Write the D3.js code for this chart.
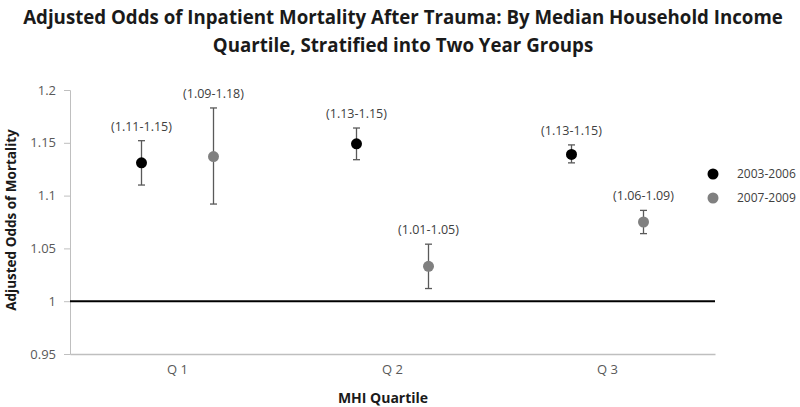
<!DOCTYPE html>
<html>
<head>
<meta charset="utf-8">
<script src="https://cdn.jsdelivr.net/npm/d3@7"></script>
<style>
  body { margin: 0; background: #fff; }
  text { font-family: "Open Sans", "DejaVu Sans", sans-serif; }
</style>
</head>
<body>
<script>
const quartiles = ["Q 1", "Q 2", "Q 3"];
const series = ["2003-2006", "2007-2009"];
const odds2003 = [1.131, 1.149, 1.139];
const lo2003 = [1.110, 1.134, 1.131];
const hi2003 = [1.152, 1.164, 1.148];
const odds2007 = [1.137, 1.033, 1.075];
const lo2007 = [1.092, 1.012, 1.064];
const hi2007 = [1.183, 1.054, 1.086];
const ci2003 = ["(1.11-1.15)", "(1.13-1.15)", "(1.13-1.15)"];
const ci2007 = ["(1.09-1.18)", "(1.01-1.05)", "(1.06-1.09)"];
const yTicks = [0.95, 1, 1.05, 1.1, 1.15, 1.2];
const reference = 1;

const w = 800, h = 407;
const mLeft = 70, mRight = 715, mTop = 90, mBottom = 354;
const colors = ["#000000", "#808080"];

const svg = d3.select("body").append("svg").attr("width", w).attr("height", h);

const x = d3.scaleBand().domain(quartiles).range([mLeft, mRight]);
const xs = d3.scalePoint().domain(series).range([-36, 36]);
const y = d3.scaleLinear().domain([0.95, 1.2]).range([mBottom, mTop]);

// title, shrunk to the width of the reference
const title = svg.append("g").attr("font-weight", "bold").attr("fill", "#1a1a1a")
  .attr("text-anchor", "middle");
const t1 = title.append("text").attr("x", 403).attr("y", 24)
  .text("Adjusted Odds of Inpatient Mortality After Trauma: By Median Household Income");
const t2 = title.append("text").attr("x", 403).attr("y", 52)
  .text("Quartile, Stratified into Two Year Groups");
let fs = 17;
t1.attr("font-size", fs + "px");
fs = fs * 760 / t1.node().getComputedTextLength();
t1.attr("font-size", fs + "px");
t2.attr("font-size", fs + "px");

// y axis
const yAxis = svg.append("g").attr("transform", "translate(" + mLeft + ",0)")
  .call(d3.axisLeft(y).tickValues(yTicks).tickSize(6).tickPadding(8)
    .tickFormat(d => String(+d.toFixed(2))));
yAxis.select(".domain").attr("stroke", "#bfbfbf");
yAxis.selectAll(".tick line").attr("stroke", "#bfbfbf");
yAxis.selectAll(".tick text").attr("fill", "#595959")
  .attr("font-size", "13px").attr("font-family", "\"Open Sans\", sans-serif");

// x axis
const xAxis = svg.append("g").attr("transform", "translate(0," + mBottom + ")")
  .call(d3.axisBottom(x).tickSize(0).tickPadding(11));
xAxis.select(".domain").attr("stroke", "#bfbfbf").attr("stroke-width", 1.5);
xAxis.selectAll(".tick text").attr("fill", "#595959")
  .attr("font-size", "13px").attr("font-family", "\"Open Sans\", sans-serif");

// reference line at 1
svg.append("line")
  .attr("x1", mLeft).attr("x2", mRight)
  .attr("y1", y(reference)).attr("y2", y(reference))
  .attr("stroke", "#000").attr("stroke-width", 2);

// axis titles
svg.append("text").attr("x", 383).attr("y", 403)
  .attr("text-anchor", "middle").attr("font-weight", "bold")
  .attr("font-size", "14px").attr("fill", "#1a1a1a").text("MHI Quartile");
svg.append("text").attr("transform", "translate(16,220) rotate(-90)")
  .attr("text-anchor", "middle").attr("font-weight", "bold")
  .attr("font-size", "13.5px").attr("fill", "#1a1a1a").text("Adjusted Odds of Mortality");

// points
const rows = [];
quartiles.forEach((q, i) => {
  rows.push({ q: q, s: series[0], v: odds2003[i], lo: lo2003[i], hi: hi2003[i], ci: ci2003[i], c: colors[0] });
  rows.push({ q: q, s: series[1], v: odds2007[i], lo: lo2007[i], hi: hi2007[i], ci: ci2007[i], c: colors[1] });
});
const cx = d => x(d.q) + x.bandwidth() / 2 + xs(d.s);

const g = svg.append("g");
const pt = g.selectAll("g.pt").data(rows).enter().append("g").attr("class", "pt");
pt.append("line")
  .attr("x1", cx).attr("x2", cx)
  .attr("y1", d => y(d.lo)).attr("y2", d => y(d.hi))
  .attr("stroke", "#595959").attr("stroke-width", 1.3);
["lo", "hi"].forEach(k => {
  pt.append("line")
    .attr("x1", d => cx(d) - 3.5).attr("x2", d => cx(d) + 3.5)
    .attr("y1", d => y(d[k])).attr("y2", d => y(d[k]))
    .attr("stroke", "#595959").attr("stroke-width", 1.3);
});
pt.append("circle")
  .attr("cx", cx).attr("cy", d => y(d.v)).attr("r", 5.5)
  .attr("fill", d => d.c);
pt.append("text")
  .attr("x", cx).attr("y", d => y(d.hi) - 10)
  .attr("text-anchor", "middle").attr("font-size", "12.5px").attr("fill", "#404040")
  .text(d => d.ci);

// legend
const lg = svg.append("g").selectAll("g").data(series).enter().append("g")
  .attr("transform", (d, i) => "translate(713," + (174 + i * 24) + ")");
lg.append("circle").attr("r", 5.5).attr("fill", (d, i) => colors[i]);
lg.append("text").attr("x", 24).attr("y", 4).attr("font-size", "12px")
  .attr("fill", "#404040").text(d => d);
</script>
</body>
</html>
